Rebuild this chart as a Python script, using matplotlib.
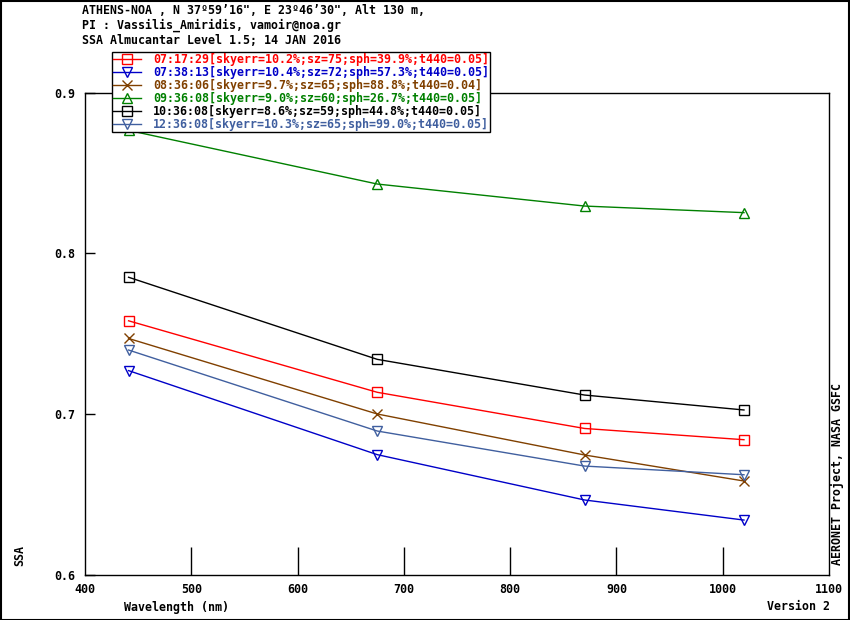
import numpy as np
import matplotlib
matplotlib.use('Agg')
import matplotlib.pyplot as plt
from matplotlib.patches import Rectangle

wavelength = [441, 675, 870, 1020]

labels = [
    '07:17:29[skyerr=10.2%;sz=75;sph=39.9%;t440=0.05]',
    '07:38:13[skyerr=10.4%;sz=72;sph=57.3%;t440=0.05]',
    '08:36:06[skyerr=9.7%;sz=65;sph=88.8%;t440=0.04]',
    '09:36:08[skyerr=9.0%;sz=60;sph=26.7%;t440=0.05]',
    '10:36:08[skyerr=8.6%;sz=59;sph=44.8%;t440=0.05]',
    '12:36:08[skyerr=10.3%;sz=65;sph=99.0%;t440=0.05]',
]
ssa_0717 = [0.758, 0.7135, 0.691, 0.684]
ssa_0738 = [0.727, 0.6747, 0.6465, 0.634]
ssa_0836 = [0.747, 0.700, 0.6745, 0.6583]
ssa_0936 = [0.8765, 0.8431, 0.8294, 0.8253]
ssa_1036 = [0.7851, 0.734, 0.7118, 0.7025]
ssa_1236 = [0.7398, 0.6894, 0.6676, 0.6622]

series = [ssa_0717, ssa_0738, ssa_0836, ssa_0936, ssa_1036, ssa_1236]
colors = ['#ff0000', '#0000c8', '#804000', '#008000', '#000000', '#405f9f']
markers = ['s', 'v', 'x', '^', 's', 'v']

mono = 'DejaVu Sans Mono'
fs = 8.4

fig = plt.figure(figsize=(8.5, 6.2), dpi=100)
W, H = 850, 620
ax = fig.add_axes([85 / W, 1 - 574.7 / H, (829 - 85) / W, (574.7 - 92.6) / H])

for y, c, m, lab in zip(series, colors, markers, labels):
    ax.plot(wavelength, y, color=c, linewidth=1, marker=m, markersize=7,
            markerfacecolor='none', markeredgecolor=c, markeredgewidth=1, label=lab)

ax.set_xlim(400, 1100)
ax.set_ylim(0.6, 0.9)
ax.set_xticks(np.arange(400, 1101, 100))
ax.set_yticks([0.6, 0.7, 0.8, 0.9])
ax.set_yticklabels(['0.6', '0.7', '0.8', '0.9'])
ax.tick_params(axis='x', direction='in', length=20, width=1, pad=6)
ax.tick_params(axis='y', direction='in', length=7, width=1, pad=7)
xt = ax.xaxis.get_major_ticks()
for t in (xt[0], xt[-1]):
    t.tick1line.set_visible(False)
for t in ax.get_xticklabels() + ax.get_yticklabels():
    t.set_fontfamily(mono)
    t.set_fontweight('bold')
    t.set_fontsize(fs)
for s in ax.spines.values():
    s.set_linewidth(1)

# header
hdr = ['ATHENS-NOA , N 37\u00ba59\u201916", E 23\u00ba46\u201930", Alt 130 m,',
       'PI : Vassilis_Amiridis, vamoir@noa.gr',
       'SSA Almucantar Level 1.5; 14 JAN 2016']
for i, line in enumerate(hdr):
    fig.text(82 / W, 1 - (10 + 15.5 * i) / H, line, family=mono, weight='bold',
             fontsize=fs, va='center', ha='left')

fig.text(124 / W, 1 - 607 / H, 'Wavelength (nm)', family=mono, weight='bold',
         fontsize=fs, va='center', ha='left')
fig.text(830 / W, 1 - 607 / H, 'Version 2', family=mono, weight='bold',
         fontsize=fs, va='center', ha='right')
fig.text(20 / W, 1 - 555 / H, 'SSA', family=mono, weight='bold',
         fontsize=fs, va='center', ha='center', rotation=90)
fig.text(837 / W, 1 - 565 / H, 'AERONET Project, NASA GSFC', family=mono,
         weight='bold', fontsize=fs, va='bottom', ha='center', rotation=90)

leg = ax.legend(loc='upper left', bbox_to_anchor=(112 / W, 1 - 52 / H),
                bbox_transform=fig.transFigure, frameon=True, fancybox=False,
                edgecolor='black', framealpha=1, borderpad=0.1,
                labelspacing=0.0, handlelength=2.4, handletextpad=1.0,
                borderaxespad=0, prop={'family': mono, 'weight': 'bold', 'size': fs})
leg.get_frame().set_linewidth(1)
for txt, c in zip(leg.get_texts(), colors):
    txt.set_color(c)

fig.patches.append(Rectangle((0.5 / W, 0.5 / H), 1 - 1.5 / W, 1 - 1.5 / H,
                             transform=fig.transFigure, fill=False,
                             edgecolor='black', linewidth=1.5))

fig.savefig('out.png', dpi=100)
